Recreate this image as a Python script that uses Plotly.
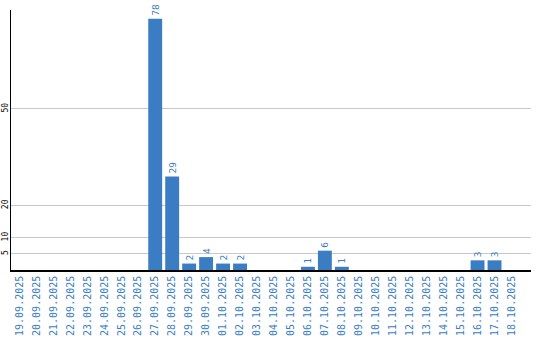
import plotly.graph_objects as go

dates = ["19.09.2025", "20.09.2025", "21.09.2025", "22.09.2025", "23.09.2025",
         "24.09.2025", "25.09.2025", "26.09.2025", "27.09.2025", "28.09.2025",
         "29.09.2025", "30.09.2025", "01.10.2025", "02.10.2025", "03.10.2025",
         "04.10.2025", "05.10.2025", "06.10.2025", "07.10.2025", "08.10.2025",
         "09.10.2025", "10.10.2025", "11.10.2025", "12.10.2025", "13.10.2025",
         "14.10.2025", "15.10.2025", "16.10.2025", "17.10.2025", "18.10.2025"]
counts = [0, 0, 0, 0, 0, 0, 0, 0, 78, 29,
          2, 4, 2, 2, 0, 0, 0, 1, 6, 1,
          0, 0, 0, 0, 0, 0, 0, 3, 3, 0]
y_ticks = [5, 10, 20, 50]

BLUE = "#3a7dc3"
labels = [str(v) if v else "" for v in counts]

fig = go.Figure(go.Bar(
    x=dates, y=counts, marker=dict(color=BLUE, line=dict(width=0)),
    text=labels, textposition="outside", textangle=-90,
    textfont=dict(family="DejaVu Sans Mono", size=9.5, color=BLUE),
    cliponaxis=False,
))
fig.update_layout(
    width=540, height=340, margin=dict(l=11, r=9, t=10, b=70),
    paper_bgcolor="white", plot_bgcolor="white", bargap=0.18,
    showlegend=False,
)
fig.update_xaxes(
    type="category", range=[-0.5, 30.15], tickangle=-90,
    tickfont=dict(family="DejaVu Sans Mono", size=10, color=BLUE),
    showline=True, linecolor="black", linewidth=1.5, showgrid=False,
    automargin=False, ticks="",
)
fig.update_yaxes(
    range=[0, 80.7], tickvals=y_ticks, tickangle=-90,
    tickfont=dict(family="DejaVu Sans Mono", size=8, color="black"),
    showline=True, linecolor="black", linewidth=1,
    showgrid=True, gridcolor="#c8c8c8", gridwidth=1, zeroline=False,
    automargin=False, ticks="", ticklabelstandoff=-1,
)
fig.write_html("out.html")
